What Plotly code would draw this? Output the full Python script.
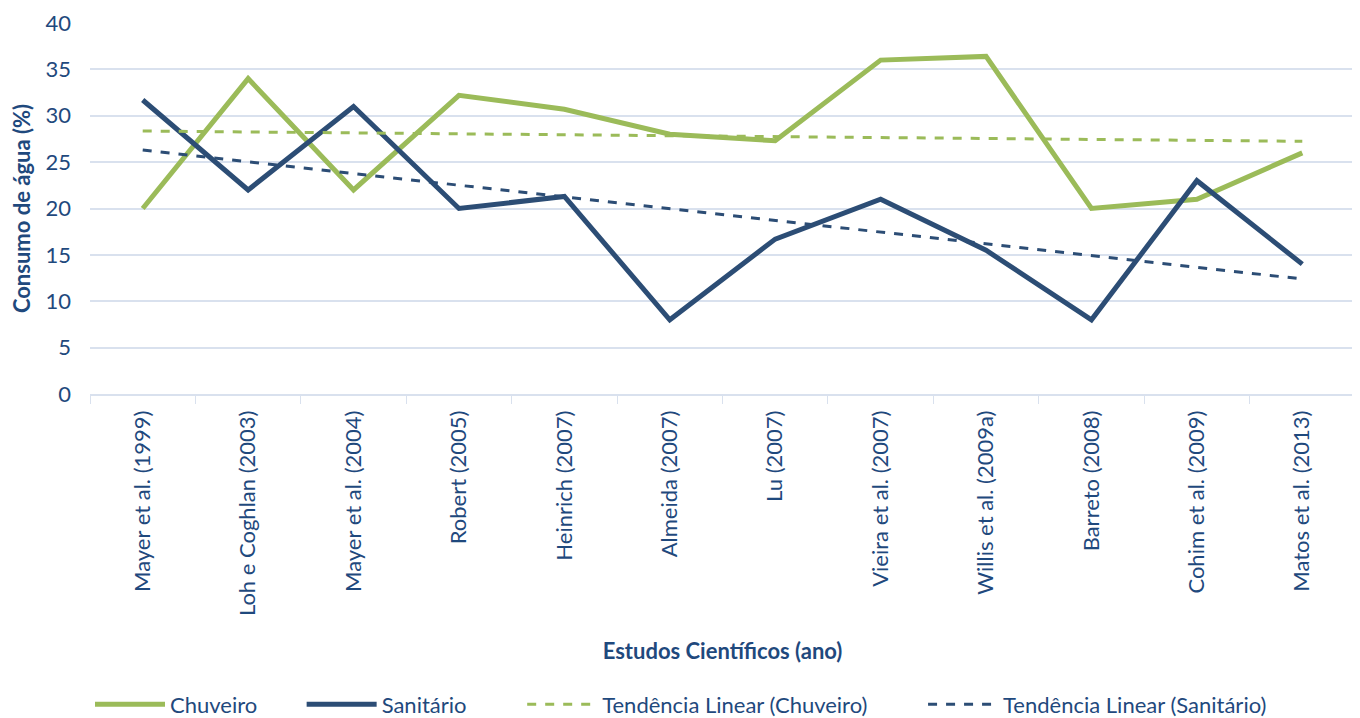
import numpy as np
import plotly.graph_objects as go

estudos = ["Mayer et al. (1999)", "Loh e Coghlan (2003)", "Mayer et al. (2004)", "Robert (2005)",
           "Heinrich (2007)", "Almeida (2007)", "Lu (2007)", "Vieira et al. (2007)",
           "Willis et al. (2009a)", "Barreto (2008)", "Cohim et al. (2009)", "Matos et al. (2013)"]
chuveiro = [20, 34, 22, 32.2, 30.7, 28, 27.3, 36, 36.4, 20, 21, 26]
sanitario = [31.7, 22, 31, 20, 21.3, 8, 16.7, 21, 15.5, 8, 23, 14]

GREEN = "#9BBB59"
BLUE = "#2C4D75"
TXT = "#1F497D"
FONT = "Lato"
FS = 22
NB = "\u00a0"

idx = np.arange(len(estudos))
tc = np.polyval(np.polyfit(idx, chuveiro, 1), idx)
ts = np.polyval(np.polyfit(idx, sanitario, 1), idx)

fig = go.Figure()
fig.add_trace(go.Scatter(x=estudos, y=chuveiro, mode="lines", name="Chuveiro" + NB * 7,
                         line=dict(color=GREEN, width=5)))
fig.add_trace(go.Scatter(x=estudos, y=sanitario, mode="lines", name="Sanitário" + NB * 9,
                         line=dict(color=BLUE, width=5)))
fig.add_trace(go.Scatter(x=estudos, y=tc, mode="lines", name="Tendência Linear (Chuveiro)" + NB * 9,
                         line=dict(color=GREEN, width=3, dash="dash")))
fig.add_trace(go.Scatter(x=estudos, y=ts, mode="lines", name="Tendência Linear (Sanitário)",
                         line=dict(color=BLUE, width=3, dash="dash")))

fig.update_layout(
    width=1352, height=710,
    margin=dict(l=82, r=5, t=15, b=324, autoexpand=False),
    paper_bgcolor="white", plot_bgcolor="white",
    font=dict(family=FONT, color=TXT, size=FS),
    showlegend=True,
    legend=dict(orientation="h", x=0.0, xanchor="left", y=-0.837, yanchor="middle",
                font=dict(size=FS, color=TXT), tracegroupgap=0, itemwidth=70,
                traceorder="normal", bgcolor="rgba(0,0,0,0)"),
    xaxis=dict(
        type="category", tickangle=-90, tickfont=dict(size=FS, color=TXT),
        showgrid=False, showline=True, linecolor="#D9E1EE", linewidth=1.5,
        ticks="outside", tickson="boundaries", ticklen=8, tickcolor="#D9E1EE",
        ticklabelstandoff=6,
        title=dict(text="<b>Estudos Científicos (ano)</b>", font=dict(size=FS, color=TXT), standoff=28),
        range=[-0.5, len(estudos) - 0.5], automargin=True,
    ),
    yaxis=dict(
        range=[0, 40], dtick=5, showgrid=True, gridcolor="#D9E1EE", gridwidth=1.5,
        zeroline=False, tickfont=dict(size=FS, color=TXT), ticks="", automargin=True,
        ticklabelstandoff=18, ticklabeloverflow="allow",
        title=dict(text="<b>Consumo de água (%)</b>", font=dict(size=FS, color=TXT), standoff=10),
    ),
)

fig.write_html("out.html")
